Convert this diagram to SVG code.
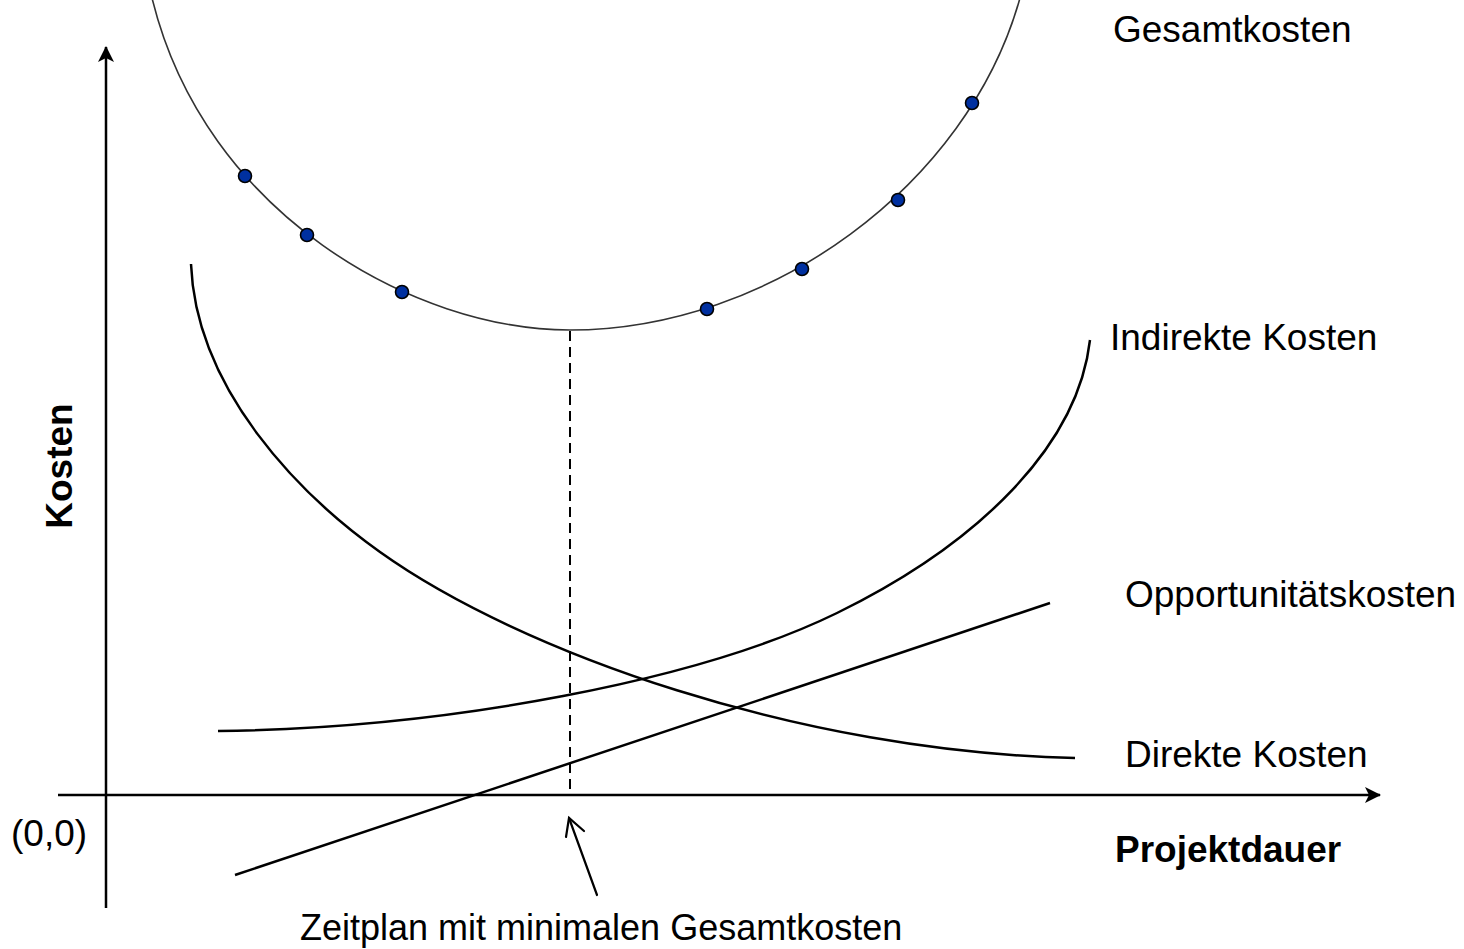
<svg xmlns="http://www.w3.org/2000/svg" width="1464" height="949" viewBox="0 0 1464 949">
  <style>
    .label { font-family: "Liberation Sans", Arial, sans-serif; font-size: 37px; fill: #000; }
    .bold { font-weight: bold; }
    .axis { stroke: #000; stroke-width: 2.5; fill: none; }
    .curve { stroke: #000; stroke-width: 2.5; fill: none; }
    .total { stroke: #333; stroke-width: 1.6; fill: none; }
    .dot { fill: #0030a0; stroke: #000; stroke-width: 1.6; }
  </style>
  <defs>
    <marker id="axisHead" viewBox="0 0 16 16" refX="15" refY="8" markerWidth="16" markerHeight="16" markerUnits="userSpaceOnUse" orient="auto">
      <path d="M0,0 L16,8 L0,16 L4,8 Z" fill="#000"/>
    </marker>
  </defs>
  <rect width="1464" height="949" fill="#fff"/>

  <!-- axes -->
  <g id="axes">
    <line class="axis" x1="106" y1="908" x2="106" y2="47" marker-end="url(#axisHead)"/>
    <line class="axis" x1="58" y1="795" x2="1380" y2="795" marker-end="url(#axisHead)"/>
  </g>

  <!-- cost curves -->
  <g id="connectors">
    <!-- total cost -->
    <path id="gesamtkosten-curve" class="total" d="M152,-2 C205,215 415,330 570,330 C770,330 968,185 1020,-2"/>
    <!-- direct cost -->
    <path id="direkte-curve" class="curve" d="M191,264 C196,390 300,495 380,552 C520,652 800,752 1075,758"/>
    <!-- indirect cost -->
    <path id="indirekte-curve" class="curve" d="M218,731 C450,728 700,680 837,613 C980,543 1078,445 1090,340"/>
    <!-- opportunity cost -->
    <line id="opportunitaet-line" class="curve" x1="235" y1="875" x2="1050" y2="603"/>
    <!-- minimum marker -->
    <line id="minimum-line" x1="570" y1="331" x2="570" y2="795" stroke="#000" stroke-width="2" stroke-dasharray="10 6"/>
    <!-- pointer to minimum -->
    <g id="pointer" stroke="#000" stroke-width="2.2" fill="none" stroke-linecap="round">
      <line x1="597" y1="895" x2="569" y2="818"/>
      <polyline points="566,837 569,818 584,831"/>
    </g>
  </g>

  <!-- points on total cost curve -->
  <g id="points">
    <circle class="dot" cx="245" cy="176" r="6.5"/>
    <circle class="dot" cx="307" cy="235" r="6.5"/>
    <circle class="dot" cx="402" cy="292" r="6.5"/>
    <circle class="dot" cx="707" cy="309" r="6.5"/>
    <circle class="dot" cx="802" cy="269" r="6.5"/>
    <circle class="dot" cx="898" cy="200" r="6.5"/>
    <circle class="dot" cx="972" cy="103" r="6.5"/>
  </g>

  <!-- labels -->
  <g id="label-gesamtkosten"><text class="label" x="1113" y="42">Gesamtkosten</text></g>
  <g id="label-indirekte"><text class="label" x="1110" y="350">Indirekte Kosten</text></g>
  <g id="label-opportunitaet"><text class="label" x="1125" y="607">Opportunitätskosten</text></g>
  <g id="label-direkte"><text class="label" x="1125" y="767">Direkte Kosten</text></g>
  <g id="label-projektdauer"><text class="label bold" x="1115" y="862">Projektdauer</text></g>
  <g id="label-origin"><text class="label" x="11" y="846">(0,0)</text></g>
  <g id="label-zeitplan"><text class="label" x="300" y="940" style="font-size:36px">Zeitplan mit minimalen Gesamtkosten</text></g>
  <g id="label-kosten"><text class="label bold" text-anchor="middle" transform="translate(72,466) rotate(-90)">Kosten</text></g>
</svg>
